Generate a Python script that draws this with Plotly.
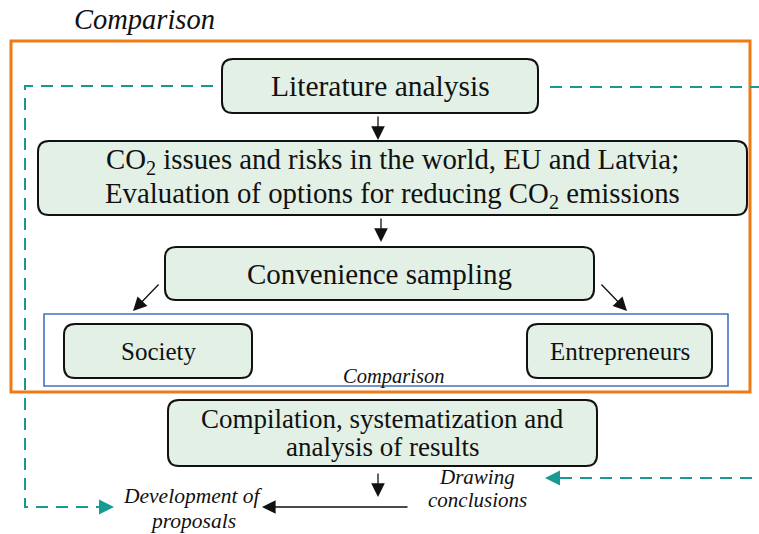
import plotly.graph_objects as go

# ---- content ----
BOX_LINES = [
    ["Literature analysis"],
    ["CO<sub>2</sub> issues and risks in the world, EU and Latvia;",
     "Evaluation of options for reducing CO<sub>2</sub> emissions"],
    ["Convenience sampling"],
    ["Society"],
    ["Entrepreneurs"],
    ["Compilation, systematization and", "analysis of results"],
]
FRAME_LABEL = "Comparison"
INNER_LABEL = "Comparison"
LEFT_OUTPUT = ["Development of", "proposals"]
RIGHT_OUTPUT = ["Drawing", "conclusions"]

# ---- geometry (page pixels, y downwards) ----
BOX_POS = [  # x0, x1, y0, y1
    (222, 538, 59, 113),
    (38, 747, 141, 215),
    (165, 594, 247, 300),
    (64, 252, 324, 378),
    (527, 712, 324, 378),
    (168, 597, 400, 466),
]
BOX_FONT = [29.5, 28.8, 29, 25, 25, 27]
LINE_GAP = [0, 34, 0, 0, 0, 28]

FILL = "#e3f0e5"
SERIF = "Liberation Serif"
TEAL = "#189a92"
ORANGE = "#ef7b17"
BLUE = "#4472c4"
INK = "#111111"

fig = go.Figure()


def rounded(x0, x1, y0, y1, r=11):
    return (f"M {x0+r},{y0} L {x1-r},{y0} Q {x1},{y0} {x1},{y0+r} "
            f"L {x1},{y1-r} Q {x1},{y1} {x1-r},{y1} L {x0+r},{y1} "
            f"Q {x0},{y1} {x0},{y1-r} L {x0},{y0+r} Q {x0},{y0} {x0+r},{y0} Z")


def label(x, y, text, size, italic=False, **kw):
    fig.add_annotation(x=x, y=y, text=text, showarrow=False, yanchor="middle",
                       font=dict(size=size, color=INK, family=SERIF,
                                 style="italic" if italic else "normal"), **kw)


# frames
fig.add_shape(type="rect", x0=11, x1=750, y0=41, y1=392,
              line=dict(color=ORANGE, width=3), fillcolor="rgba(0,0,0,0)")
fig.add_shape(type="rect", x0=44, x1=728, y0=314, y1=386,
              line=dict(color=BLUE, width=1.6), fillcolor="rgba(0,0,0,0)")

# dashed feedback lines
dash = dict(color=TEAL, width=2, dash="12px,8px")
fig.add_shape(type="path", path="M 213,86 L 25,86 L 25,507 L 100,507", line=dash)
fig.add_shape(type="line", x0=550, x1=760, y0=87, y1=87, line=dash)
fig.add_shape(type="line", x0=560, x1=760, y0=478, y1=478, line=dash)

# boxes
for lines, (x0, x1, y0, y1), fs, gap in zip(BOX_LINES, BOX_POS, BOX_FONT, LINE_GAP):
    fig.add_shape(type="path", path=rounded(x0, x1, y0, y1),
                  line=dict(color=INK, width=2), fillcolor=FILL)
    yc = (y0 + y1) / 2 - gap * (len(lines) - 1) / 2
    for i, t in enumerate(lines):
        label((x0 + x1) / 2, yc + i * gap, t, fs)


def arrow(x, y, ax, ay, color=INK, width=1.3, size=2.1):
    fig.add_annotation(x=x, y=y, ax=ax, ay=ay, xref="x", yref="y", axref="x", ayref="y",
                       text="", showarrow=True, arrowhead=2, arrowsize=size,
                       arrowwidth=width, arrowcolor=color)


arrow(378, 140, 378, 115)
arrow(381, 242, 381, 217)
arrow(133, 311, 160, 283)
arrow(627, 311, 600, 283)
arrow(378, 497, 378, 472)
arrow(262, 507, 409, 507)
arrow(114, 507, 96, 507, color=TEAL, width=2, size=1.5)
arrow(545, 478, 563, 478, color=TEAL, width=2, size=1.5)

# italic labels
label(72, 19, FRAME_LABEL, 28.5, italic=True, xanchor="left")
label(393, 376, INNER_LABEL, 20.5, italic=True)
for i, t in enumerate(LEFT_OUTPUT):
    label(193, 496 + i * 25, t, 21.5, italic=True)
for i, t in enumerate(RIGHT_OUTPUT):
    label(477, 477 + i * 23, t, 21, italic=True)

fig.update_layout(
    width=759, height=534,
    margin=dict(l=0, r=0, t=0, b=0),
    paper_bgcolor="white", plot_bgcolor="white",
    showlegend=False,
    xaxis=dict(range=[0, 759], visible=False, fixedrange=True),
    yaxis=dict(range=[534, 0], visible=False, fixedrange=True),
)

fig.write_html("out.html", post_script="document.body.style.margin='0';",
               config={"displayModeBar": False})
